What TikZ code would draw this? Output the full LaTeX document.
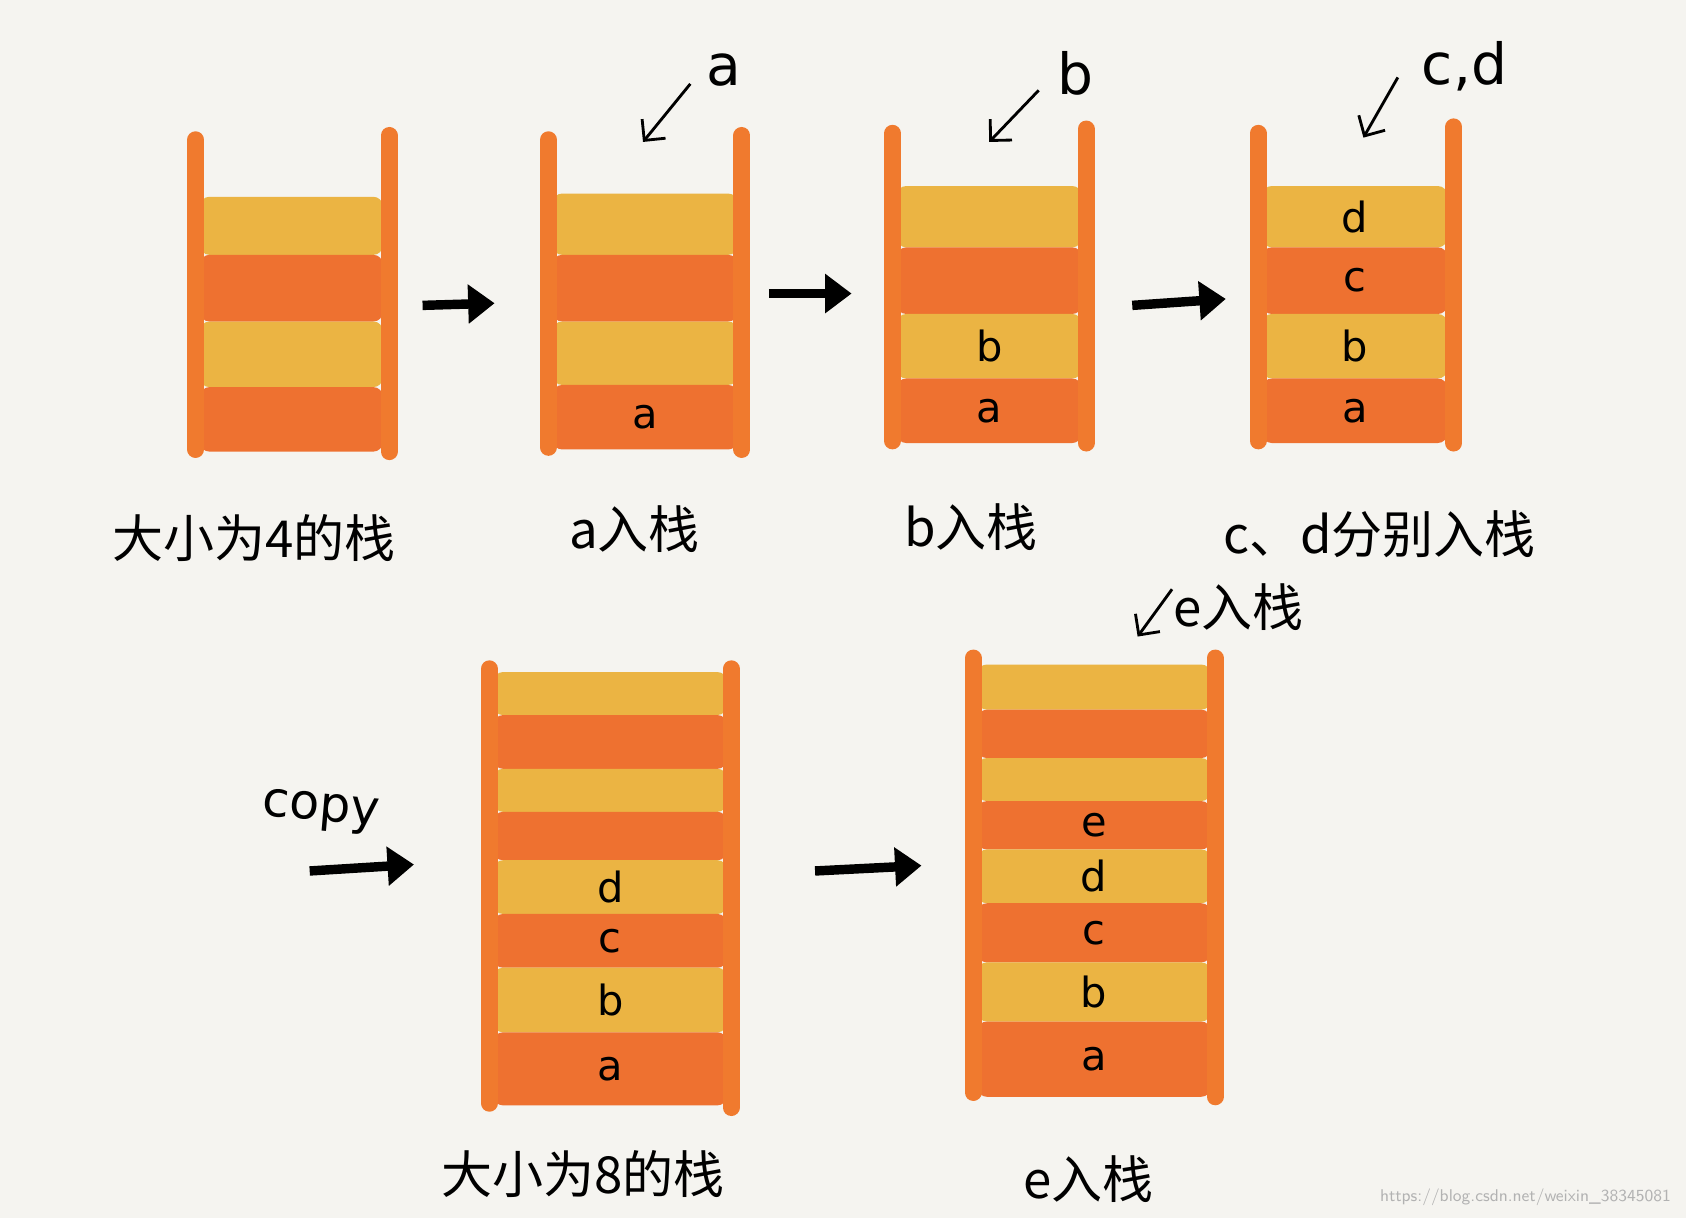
\documentclass[tikz,border=0pt]{standalone}
\usepackage{fontspec}
\newfontfamily\cjk{Noto Sans CJK SC}
\newfontfamily\hand{DejaVu Sans}
\usetikzlibrary{arrows.meta}
\definecolor{bg}{HTML}{F5F4F0}
\definecolor{yel}{HTML}{EBB443}
\definecolor{ora}{HTML}{EE7130}
\definecolor{wall}{HTML}{F07A2E}
\tikzset{
  wallline/.style={wall,line width=9pt,line cap=round},
  bigarrow/.style={black,line width=5pt,-{Triangle[length=14pt,width=20pt]}},
  smallarrow/.style={black,line width=1.5pt,-{Straight Barb[length=8pt]}},
  lbl/.style={font=\hand\fontsize{22}{22}\selectfont},
  captext/.style={font=\cjk\fontsize{27}{27}\selectfont},
}
\begin{document}
\begin{tikzpicture}[x=0.02cm,y=-0.02cm]
\fill[bg] (0,0) rectangle (1568,1133);
\useasboundingbox (0,0) rectangle (1568,1133);
\newcommand{\lay}[6]{\fill[#5,rounded corners=5pt] (#1,#3) rectangle (#2,#4);
  \node[lbl] at ({(#1+#2)/2},{(#3+#4)/2}) {#6};}
% stack 1
\lay{186}{356}{183}{237}{yel}{}
\lay{186}{356}{237}{299}{ora}{}
\lay{186}{356}{299}{360}{yel}{}
\lay{186}{356}{360}{420}{ora}{}
\draw[wallline] (182,130)--(182,418); \draw[wallline] (362,126)--(362,420);
% stack 2
\lay{514}{686}{180}{237}{yel}{}
\lay{514}{686}{237}{299}{ora}{}
\lay{514}{686}{299}{358}{yel}{}
\lay{514}{686}{358}{418}{ora}{a}
\draw[wallline] (510,130)--(510,416); \draw[wallline] (690,126)--(690,418);
% stack 3
\lay{834}{1006}{173}{230}{yel}{}
\lay{834}{1006}{230}{292}{ora}{}
\lay{834}{1006}{292}{352}{yel}{b}
\lay{834}{1006}{352}{412}{ora}{a}
\draw[wallline] (830,124)--(830,410); \draw[wallline] (1010,120)--(1010,412);
% stack 4
\lay{1174}{1346}{173}{230}{yel}{d}
\lay{1174}{1346}{230}{292}{ora}{c}
\lay{1174}{1346}{292}{352}{yel}{b}
\lay{1174}{1346}{352}{412}{ora}{a}
\draw[wallline] (1170,124)--(1170,410); \draw[wallline] (1352,118)--(1352,412);
% stack 5
\lay{459}{676}{625}{665}{yel}{}
\lay{459}{676}{665}{715}{ora}{}
\lay{459}{676}{715}{755}{yel}{}
\lay{459}{676}{755}{800}{ora}{}
\lay{459}{676}{800}{850}{yel}{d}
\lay{459}{676}{850}{900}{ora}{c}
\lay{459}{676}{900}{960}{yel}{b}
\lay{459}{676}{960}{1028}{ora}{a}
\draw[wallline] (455,622)--(455,1026); \draw[wallline] (680,622)--(680,1030);
% stack 6
\lay{909}{1126}{618}{660}{yel}{}
\lay{909}{1126}{660}{705}{ora}{}
\lay{909}{1126}{705}{745}{yel}{}
\lay{909}{1126}{745}{790}{ora}{e}
\lay{909}{1126}{790}{840}{yel}{d}
\lay{909}{1126}{840}{895}{ora}{c}
\lay{909}{1126}{895}{950}{yel}{b}
\lay{909}{1126}{950}{1020}{ora}{a}
\draw[wallline] (905,612)--(905,1016); \draw[wallline] (1130,612)--(1130,1020);
% big arrows
\coordinate (a1s) at (393,284); \coordinate (a1e) at (460,282);
\coordinate (a2s) at (715,273); \coordinate (a2e) at (792,273);
\coordinate (a3s) at (1053,284); \coordinate (a3e) at (1140,278);
\coordinate (a4s) at (288,810); \coordinate (a4e) at (385,804);
\coordinate (a5s) at (758,810); \coordinate (a5e) at (857,805);
\draw[bigarrow] (a1s)--(a1e);
\draw[bigarrow] (a2s)--(a2e);
\draw[bigarrow] (a3s)--(a3e);
\draw[bigarrow] (a4s)--(a4e);
\draw[bigarrow] (a5s)--(a5e);
% small arrows and labels
\node[lbl,font=\hand\fontsize{30}{30}\selectfont] (la) at (673,65) {a};
\draw[smallarrow] (642,78)--(598,132);
\node[lbl,font=\hand\fontsize{30}{30}\selectfont] (lb) at (1000,68) {b};
\draw[smallarrow] (966,84)--(920,132);
\node[lbl,font=\hand\fontsize{30}{30}\selectfont] (lcd) at (1362,62) {c,d};
\draw[smallarrow] (1300,72)--(1268,128);
\node[captext] (le) at (1152,565) {e入栈};
\draw[smallarrow] (1090,548)--(1058,592);
\node[lbl,font=\hand\fontsize{26}{26}\selectfont,rotate=-5] (copy) at (298,755) {copy};
% captions
\node[captext] (c1) at (236,500) {大小为4的栈};
\node[captext] (c2) at (590,492) {a入栈};
\node[captext] (c3) at (903,490) {b入栈};
\node[captext] (c4) at (1283,497) {c、d分别入栈};
\node[captext] (c5) at (542,1092) {大小为8的栈};
\node[captext] (c6) at (1012,1097) {e入栈};
\node[font=\sffamily\fontsize{9}{9}\selectfont,text=gray!60,anchor=east] (wm) at (1560,1113) {https://blog.csdn.net/weixin\_38345081};
\end{tikzpicture}
\end{document}
